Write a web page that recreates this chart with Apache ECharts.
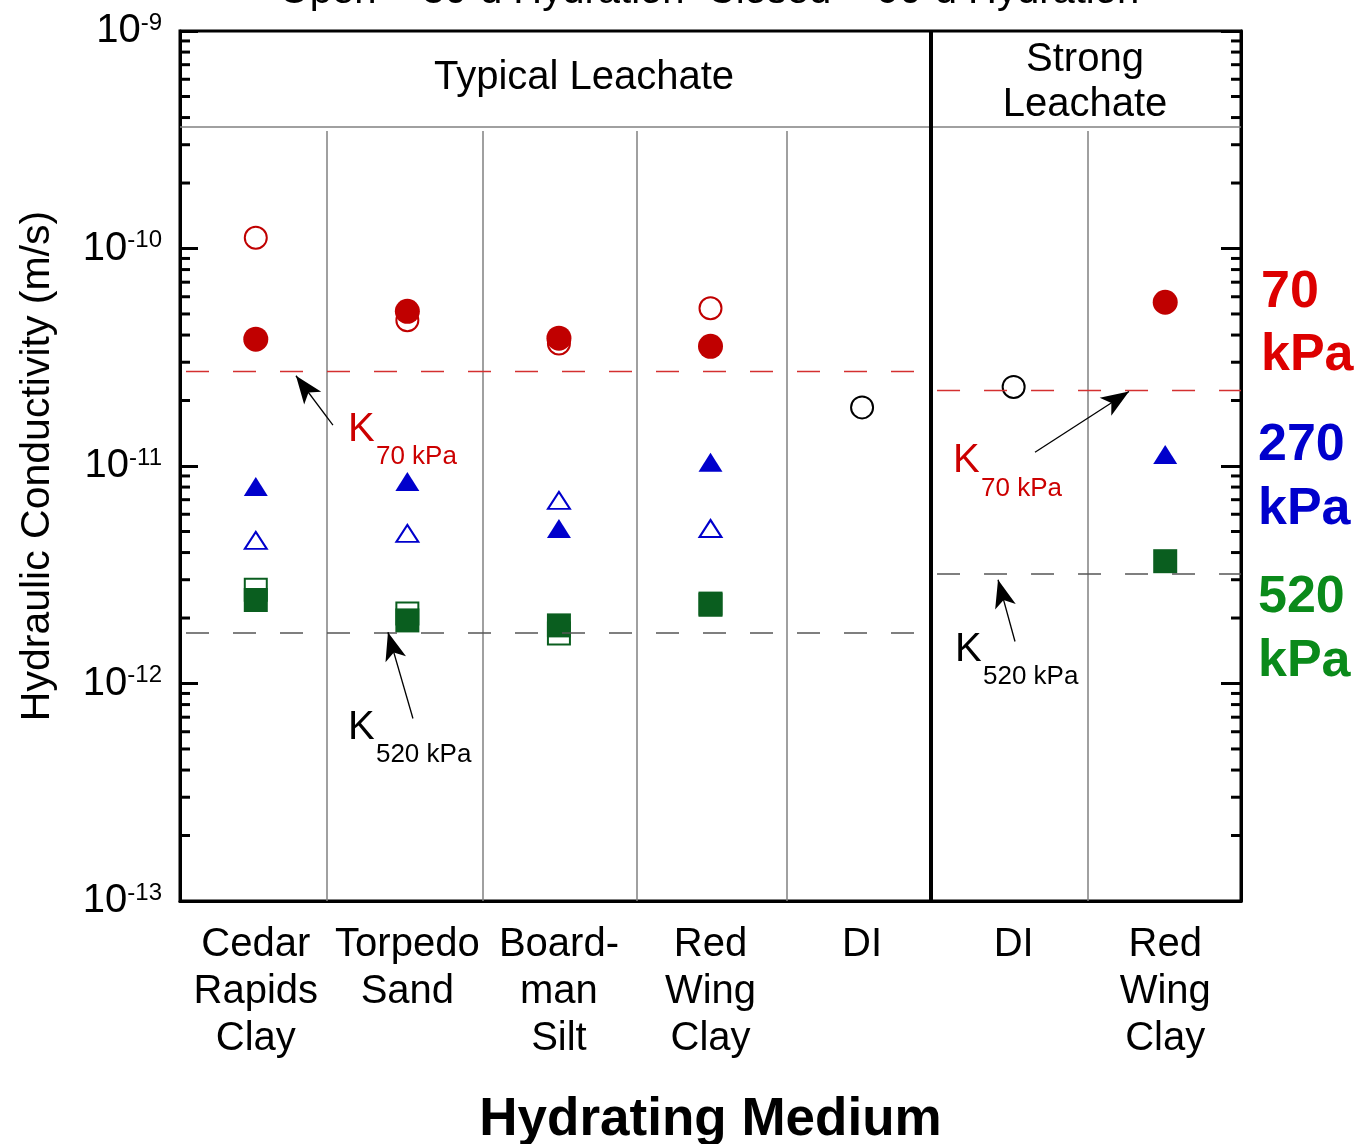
<!DOCTYPE html>
<html>
<head>
<meta charset="utf-8">
<script src="https://cdn.jsdelivr.net/npm/echarts@6/dist/echarts.min.js"></script>
<style>
  html, body { margin: 0; padding: 0; background: #fff; }
  #chart { width: 1360px; height: 1144px; }
</style>
</head>
<body>
<div id="chart"></div>
<script>
// Hydraulic conductivity of GCL specimens by hydrating medium
const categories = ['Cedar\nRapids\nClay', 'Torpedo\nSand', 'Board-\nman\nSilt', 'Red\nWing\nClay', 'DI', 'DI', 'Red\nWing\nClay'];

// K (m/s) per hydrating medium; null = not tested
const open70    = [1.12e-10, 4.68e-11, 3.66e-11, 5.31e-11, null, null, null];
const closed70  = [3.83e-11, 5.14e-11, 3.87e-11, 3.55e-11, null, null, 5.66e-11];
const open270   = [4.55e-12, 4.90e-12, 6.95e-12, 5.16e-12, null, null, null];
const closed270 = [8.05e-12, 8.49e-12, 5.16e-12, 1.04e-11, null, null, 1.13e-11];
const open520   = [2.70e-12, 2.10e-12, 1.70e-12, 2.30e-12, null, null, null];
const closed520 = [2.42e-12, 1.95e-12, 1.85e-12, 2.33e-12, null, null, 3.65e-12];
const openDI    = [null, null, null, null, 1.86e-11, 2.31e-11, null];

// Reference K of DI-hydrated GCL: [typical leachate, strong leachate]
const refK70  = [2.72e-11, 2.23e-11];
const refK520 = [1.71e-12, 3.21e-12];

// Y axis ticks (log decades)
const yMin = 1e-13, yMax = 1e-9;
const minorTickMantissas = [2, 3, 4, 5, 6, 7, 8, 9];
const decades = [-13, -12, -11, -10];

const FONT = '"Liberation Sans", Arial, Helvetica, sans-serif';
const RED = '#c00000', BLUE = '#0000cc', GREEN = '#0a5e1f';

// column layout on the x value axis (category i sits at x = i)
const columnEdges = [0.47, 1.5, 2.515, 3.505, 5.49];
const leachateDivider = 4.455;
const headerK = 3.61e-10;      // level of the header band line
const columnTopK = 3.47e-10;   // column separators start just below it

function pts(arr) {
  const out = [];
  arr.forEach((v, i) => { if (v != null) out.push([i, v]); });
  return out;
}

const minorTicks = [];
decades.forEach(e => minorTickMantissas.forEach(m => minorTicks.push([0, m * Math.pow(10, e)])));

function seg(x1, y1, x2, y2) { return [{ coord: [x1, y1] }, { coord: [x2, y2] }]; }

// K_ref annotations: text anchor + arrow (tail -> head)
const annotations = [
  { x: 0.608, k: 1.46e-11, sub: '70 kPa', color: '#cc0000', from: [0.509, 1.54e-11], to: [0.265, 2.6e-11] },
  { x: 0.608, k: 6.26e-13, sub: '520 kPa', color: '#000', from: [1.037, 6.9e-13], to: [0.872, 1.72e-12] },
  { x: 4.600, k: 1.05e-11, sub: '70 kPa', color: '#cc0000', from: [5.141, 1.156e-11], to: [5.761, 2.2e-11] },
  { x: 4.613, k: 1.43e-12, sub: '520 kPa', color: '#000', from: [5.009, 1.56e-12], to: [4.897, 3.0e-12] }
];

function openStyle(c) { return { color: '#fff', borderColor: c, borderWidth: 2, opacity: 1 }; }
function fillStyle(c) { return { color: c, opacity: 1 }; }

const scatter = (name, data, symbol, size, style, z) => ({
  name, type: 'scatter', xAxisIndex: 1, yAxisIndex: 0, data: pts(data),
  symbol, symbolSize: size, itemStyle: style, z, silent: true, animation: false
});

const chart = echarts.init(document.getElementById('chart'), null, { renderer: 'canvas' });

const plainLine = (style, data, z) => ({
  type: 'scatter', xAxisIndex: 1, yAxisIndex: 0, data: [], silent: true, z,
  markLine: { silent: true, symbol: ['none', 'none'], label: { show: false }, animation: false, lineStyle: style, data }
});

const option = {
  backgroundColor: '#fff',
  animation: false,
  textStyle: { fontFamily: FONT },
  grid: {
    left: 180, right: 119, top: 31, bottom: 243,
    containLabel: false, outerBoundsMode: 'none',
    show: true, borderColor: '#000', borderWidth: 3, backgroundColor: 'transparent'
  },
  xAxis: [
    {
      type: 'category', data: categories, boundaryGap: true, position: 'bottom',
      axisLine: { show: true, onZero: false, lineStyle: { color: '#000', width: 3 } },
      axisTick: { show: false },
      axisLabel: { interval: 0, color: '#000', fontFamily: FONT, fontSize: 40, lineHeight: 47, margin: 20, align: 'center' },
      name: 'Hydrating Medium', nameLocation: 'middle', nameGap: 193,
      nameTextStyle: { fontFamily: FONT, fontSize: 53, fontWeight: 'bold', color: '#000' },
      splitLine: { show: false }
    },
    { type: 'value', min: -0.5, max: 6.5, show: false, axisLine: { onZero: false } }
  ],
  yAxis: [
    {
      type: 'log', logBase: 10, min: yMin, max: yMax, position: 'left',
      axisLine: { show: true, onZero: false, lineStyle: { color: '#000', width: 3 } },
      axisTick: { show: true, inside: true, length: 18, lineStyle: { color: '#000', width: 3 } },
      splitLine: { show: false },
      axisLabel: {
        margin: 18, color: '#000',
        formatter: v => '{b|10}{s|' + Math.round(Math.log10(v)) + '}',
        rich: {
          b: { fontFamily: FONT, fontSize: 40, lineHeight: 40, color: '#000' },
          s: { fontFamily: FONT, fontSize: 24, lineHeight: 22, verticalAlign: 'top', color: '#000' }
        }
      },
      name: 'Hydraulic Conductivity (m/s)', nameLocation: 'middle', nameGap: 122, nameRotate: 90,
      nameTextStyle: { fontFamily: FONT, fontSize: 41, color: '#000' }
    },
    {
      type: 'log', logBase: 10, min: yMin, max: yMax, position: 'right',
      axisLine: { show: true, onZero: false, lineStyle: { color: '#000', width: 3 } },
      axisTick: { show: true, inside: true, length: 20, lineStyle: { color: '#000', width: 3 } },
      axisLabel: { show: false }, splitLine: { show: false }
    }
  ],
  graphic: [
    { type: 'text', style: { text: 'Open = 30-d Hydration  Closed = 90-d Hydration', x: 709, y: -8, align: 'center', verticalAlign: 'middle', font: '40px ' + FONT, fill: '#000' } },
    { type: 'text', style: { text: 'Typical Leachate', x: 584, y: 78, align: 'center', verticalAlign: 'middle', font: '40px ' + FONT, fill: '#000' } },
    { type: 'text', style: { text: 'Strong\nLeachate', x: 1085, y: 82, align: 'center', verticalAlign: 'middle', font: '40px ' + FONT, lineHeight: 45, fill: '#000' } },
    { type: 'text', style: { text: '70\nkPa', x: 1261, y: 324, align: 'left', verticalAlign: 'middle', font: 'bold 52px ' + FONT, lineHeight: 63, fill: '#dd0000' } },
    { type: 'text', style: { text: '270\nkPa', x: 1258, y: 478, align: 'left', verticalAlign: 'middle', font: 'bold 52px ' + FONT, lineHeight: 64, fill: '#0000cc' } },
    { type: 'text', style: { text: '520\nkPa', x: 1258, y: 630, align: 'left', verticalAlign: 'middle', font: 'bold 52px ' + FONT, lineHeight: 64, fill: '#0a8a1a' } }
  ],
  series: [
    // header band line and column separators
    plainLine({ color: '#808080', width: 1.5, type: 'solid' },
      [seg(-0.5, headerK, 6.5, headerK), ...columnEdges.map(x => seg(x, yMin, x, columnTopK))], 1),
    // typical / strong leachate divider
    plainLine({ color: '#000', width: 4, type: 'solid' }, [seg(leachateDivider, yMin, leachateDivider, yMax)], 2),
    // reference K lines
    plainLine({ color: '#d43030', width: 1.3, type: [23, 24], dashOffset: -6 },
      [seg(-0.5, refK70[0], leachateDivider, refK70[0]), seg(leachateDivider, refK70[1], 6.5, refK70[1])], 2),
    plainLine({ color: '#555', width: 1.6, type: [23, 24], dashOffset: -6 },
      [seg(-0.5, refK520[0], leachateDivider, refK520[0]), seg(leachateDivider, refK520[1], 6.5, refK520[1])], 2),
    // minor log ticks on both sides
    {
      type: 'custom', xAxisIndex: 1, yAxisIndex: 0, data: minorTicks, silent: true, z: 5,
      encode: { x: 0, y: 1 },
      renderItem(params, api) {
        const y = api.coord([0, api.value(1)])[1];
        const cs = params.coordSys;
        const st = { stroke: '#000', lineWidth: 3 };
        return {
          type: 'group', children: [
            { type: 'line', shape: { x1: cs.x, y1: y, x2: cs.x + 10, y2: y }, style: st },
            { type: 'line', shape: { x1: cs.x + cs.width, y1: y, x2: cs.x + cs.width - 10, y2: y }, style: st }
          ]
        };
      }
    },
    // open symbols = 30-d hydration, closed = 90-d hydration
    scatter('70 kPa open', open70, 'circle', 22, openStyle(RED), 3),
    scatter('270 kPa open', open270, 'triangle', [22, 17], openStyle(BLUE), 3),
    scatter('520 kPa open', open520, 'rect', [22, 22], openStyle(GREEN), 3),
    scatter('DI open', openDI, 'circle', 22, openStyle('#000'), 3),
    scatter('70 kPa closed', closed70, 'circle', 25, fillStyle(RED), 4),
    scatter('270 kPa closed', closed270, 'triangle', [24, 19], fillStyle(BLUE), 4),
    scatter('520 kPa closed', closed520, 'rect', [24, 24], fillStyle(GREEN), 4),
    // K_ref annotations with arrows
    {
      type: 'custom', xAxisIndex: 1, yAxisIndex: 0, silent: true, z: 6,
      data: annotations.map(a => [a.x, a.k]),
      encode: { x: 0, y: 1 },
      renderItem(params, api) {
        const a = annotations[params.dataIndex];
        const p = api.coord([api.value(0), api.value(1)]);
        return {
          type: 'group', children: [
            { type: 'text', style: { text: 'K', x: p[0], y: p[1], align: 'left', verticalAlign: 'middle', font: '40px ' + FONT, fill: a.color } },
            { type: 'text', style: { text: a.sub, x: p[0] + 28, y: p[1] + 27, align: 'left', verticalAlign: 'middle', font: '26px ' + FONT, fill: a.color } }
          ]
        };
      },
      markLine: {
        silent: true, symbol: ['none', 'arrow'], symbolSize: [16, 28], label: { show: false }, animation: false,
        lineStyle: { color: '#000', width: 1.3, type: 'solid' },
        data: annotations.map(a => seg(a.from[0], a.from[1], a.to[0], a.to[1]))
      }
    }
  ]
};

chart.setOption(option);
</script>
</body>
</html>
